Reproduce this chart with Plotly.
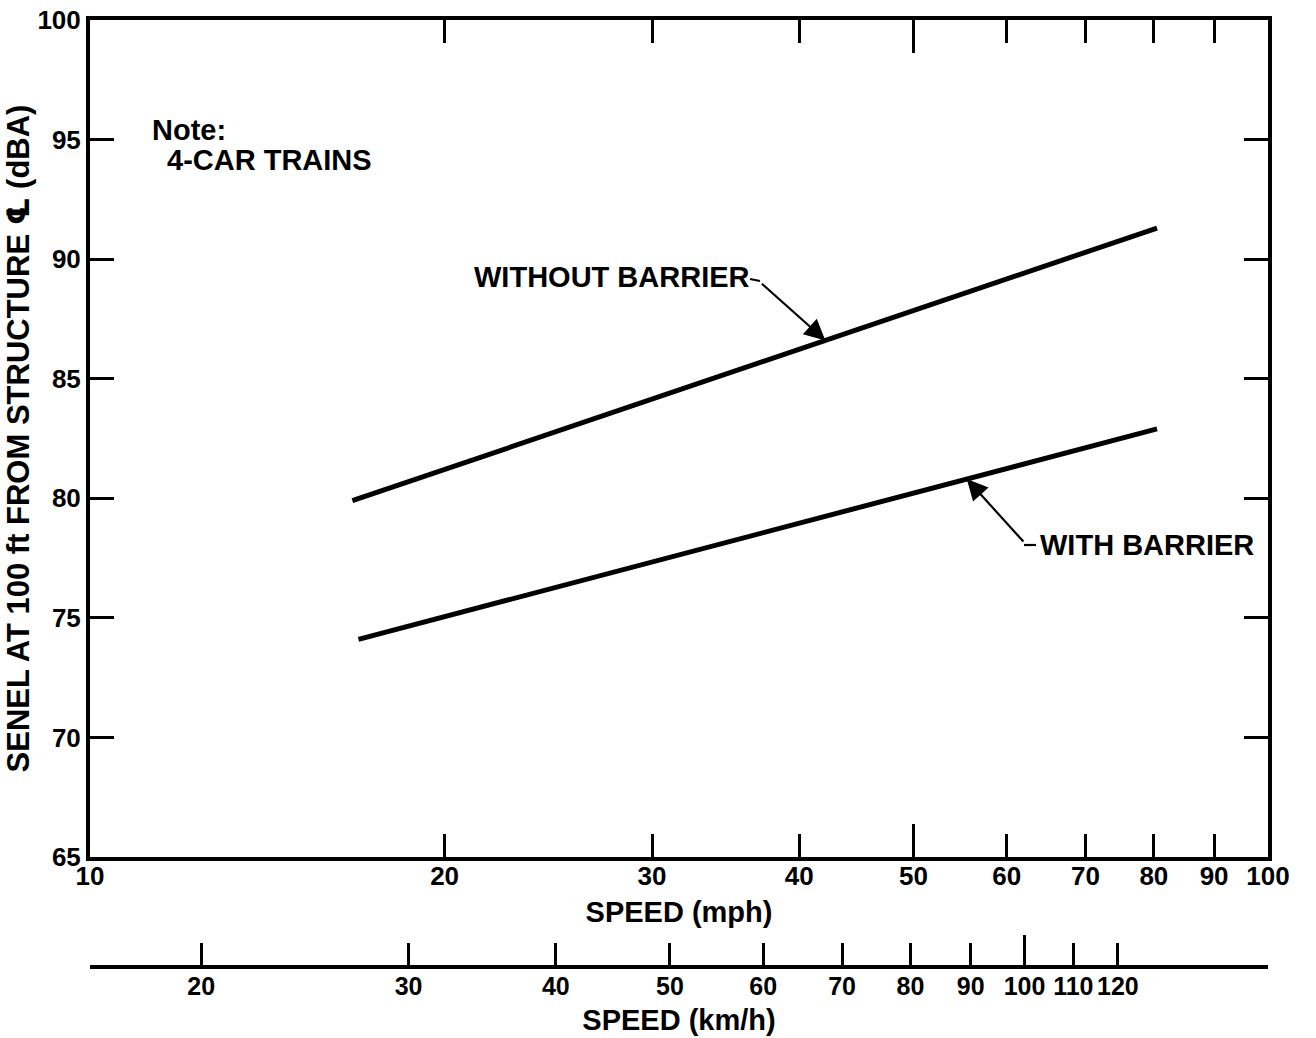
import math
import plotly.graph_objects as go

# ---------------- data ----------------
speed_without_mph = [16.7, 80.5]
senel_without_dba = [79.9, 91.3]
speed_with_mph = [16.9, 80.5]
senel_with_dba = [74.1, 82.9]

mph_ticks = [10, 20, 30, 40, 50, 60, 70, 80, 90, 100]
mph_long_ticks = [50]
senel_ticks = [65, 70, 75, 80, 85, 90, 95, 100]
kmh_ticks = [20, 30, 40, 50, 60, 70, 80, 90, 100, 110, 120]
kmh_long_ticks = [100]
KMH_PER_MPH = 1.609344

label_without = "WITHOUT BARRIER"
label_with = "WITH BARRIER"
note_title = "Note:"
note_text = "4-CAR TRAINS"
x_title = "SPEED (mph)"
x2_title = "SPEED (km/h)"
y_title = ('SENEL AT 100 ft FROM STRUCTURE '
           '<span style="font-family:DejaVu Sans">\u2104</span> (dBA)')

arrow_speed_without = 42.1
arrow_speed_with = 55.5

# ---------------- layout geometry ----------------
W, H = 1316, 1038
L, R, T, B = 90, 1268, 20, 965       # plot region (pixels)
MAIN_BOTTOM = 857


def px(x):
    return (x - L) / (R - L)


def py(y):
    return (B - y) / (B - T)


def interp_log(xs, ys, xv):
    lx = [math.log10(v) for v in xs]
    f = (math.log10(xv) - lx[0]) / (lx[1] - lx[0])
    return ys[0] + f * (ys[1] - ys[0])


FONT = "Liberation Sans, Arial, Helvetica, sans-serif"
TICKFONT = dict(family=FONT, size=26, color="black", weight="bold")
KMHFONT = dict(family=FONT, size=25, color="black", weight="bold")
LABELFONT = dict(family=FONT, size=29, color="black", weight="bold")
YTITLEFONT = dict(family=FONT, size=31, color="black", weight="bold")

fig = go.Figure()

fig.add_trace(go.Scatter(x=speed_without_mph, y=senel_without_dba, mode="lines",
                         line=dict(color="black", width=5), name=label_without,
                         showlegend=False, xaxis="x", yaxis="y"))
fig.add_trace(go.Scatter(x=speed_with_mph, y=senel_with_dba, mode="lines",
                         line=dict(color="black", width=5), name=label_with,
                         showlegend=False, xaxis="x", yaxis="y"))
# invisible helper traces so auxiliary axes are rendered
fig.add_trace(go.Scatter(x=[k / KMH_PER_MPH for k in kmh_ticks], y=[0.5] * len(kmh_ticks),
                         mode="markers", marker=dict(opacity=0), hoverinfo="skip",
                         showlegend=False, xaxis="x2", yaxis="y2"))
fig.add_trace(go.Scatter(x=mph_long_ticks, y=[70] * len(mph_long_ticks), mode="markers",
                         marker=dict(opacity=0), hoverinfo="skip", showlegend=False,
                         xaxis="x3", yaxis="y"))
fig.add_trace(go.Scatter(x=[k / KMH_PER_MPH for k in kmh_long_ticks], y=[0.5],
                         mode="markers", marker=dict(opacity=0), hoverinfo="skip",
                         showlegend=False, xaxis="x4", yaxis="y2"))

main_ydom = [py(MAIN_BOTTOM), 1]
logrange = [1, 2]

common_x = dict(type="log", range=logrange, domain=[0, 1], showgrid=False, zeroline=False,
                ticks="inside", tickcolor="black", tickwidth=2.5, showline=True,
                linecolor="black", linewidth=4, tickfont=TICKFONT, tickmode="array",
                tickangle=0, automargin=False)

fig.update_layout(
    width=W, height=H,
    margin=dict(l=L, r=W - R, t=T, b=H - B, pad=0),
    paper_bgcolor="white", plot_bgcolor="white",
    showlegend=False,
    xaxis=dict(common_x, anchor="y", tickvals=mph_ticks,
               ticktext=[str(v) for v in mph_ticks], ticklen=23, mirror="ticks",
               ticklabelstandoff=-7,
               title=dict(text=x_title, font=LABELFONT, standoff=12)),
    xaxis3=dict(common_x, anchor="y", overlaying="x", tickvals=mph_long_ticks,
                ticklen=33, mirror="ticks", showticklabels=False),
    yaxis=dict(range=[65, 100], domain=main_ydom, anchor="x", tickmode="array",
               tickvals=senel_ticks, ticktext=[str(v) for v in senel_ticks],
               ticks="inside", ticklen=24, tickwidth=2.5, tickcolor="black",
               showline=True, linecolor="black", linewidth=4, mirror="ticks",
               showgrid=False, zeroline=False, tickfont=TICKFONT, automargin=False,
               title=dict(text=y_title, font=YTITLEFONT, standoff=2)),
    xaxis2=dict(common_x, anchor="y2", tickvals=[k / KMH_PER_MPH for k in kmh_ticks],
                ticktext=[str(k) for k in kmh_ticks], ticklen=22, tickfont=KMHFONT,
                ticklabelstandoff=-4,
                title=dict(text=x2_title, font=LABELFONT, standoff=12)),
    xaxis4=dict(common_x, anchor="y2", overlaying="x2",
                tickvals=[k / KMH_PER_MPH for k in kmh_long_ticks], ticklen=30,
                showticklabels=False),
    yaxis2=dict(domain=[0, 0.02], anchor="x2", range=[0, 1], visible=False),
)

# note text
fig.add_annotation(x=px(150), y=py(130), xref="paper", yref="paper", text=note_title,
                   showarrow=False, xanchor="left", yanchor="middle", font=LABELFONT)
fig.add_annotation(x=px(165), y=py(160), xref="paper", yref="paper", text=note_text,
                   showarrow=False, xanchor="left", yanchor="middle", font=LABELFONT)

# curve labels
fig.add_annotation(x=px(472), y=py(277), xref="paper", yref="paper", text=label_without,
                   showarrow=False, xanchor="left", yanchor="middle", font=LABELFONT)
fig.add_annotation(x=px(1038), y=py(545), xref="paper", yref="paper", text=label_with,
                   showarrow=False, xanchor="left", yanchor="middle", font=LABELFONT)

# arrows pointing to the curves
tip_without = interp_log(speed_without_mph, senel_without_dba, arrow_speed_without)
tip_with = interp_log(speed_with_mph, senel_with_dba, arrow_speed_with)
fig.add_annotation(x=math.log10(arrow_speed_without), y=tip_without, xref="x", yref="y",
                   text="", showarrow=True, ax=-65, ay=-58, axref="pixel", ayref="pixel",
                   arrowhead=2, arrowsize=1.9, arrowwidth=2.2, arrowcolor="black",
                   standoff=0, startstandoff=0)
fig.add_annotation(x=math.log10(arrow_speed_with), y=tip_with, xref="x", yref="y",
                   text="", showarrow=True, ax=58, ay=64, axref="pixel", ayref="pixel",
                   arrowhead=2, arrowsize=1.9, arrowwidth=2.2, arrowcolor="black",
                   standoff=0, startstandoff=0)

# short leader ticks joining labels to arrows
fig.add_shape(type="line", xref="paper", yref="paper", x0=px(750), y0=py(279),
              x1=px(760), y1=py(281), line=dict(color="black", width=2.2))
fig.add_shape(type="line", xref="paper", yref="paper", x0=px(1024), y0=py(545),
              x1=px(1036), y1=py(545), line=dict(color="black", width=2.2))

fig.write_html("out.html")
